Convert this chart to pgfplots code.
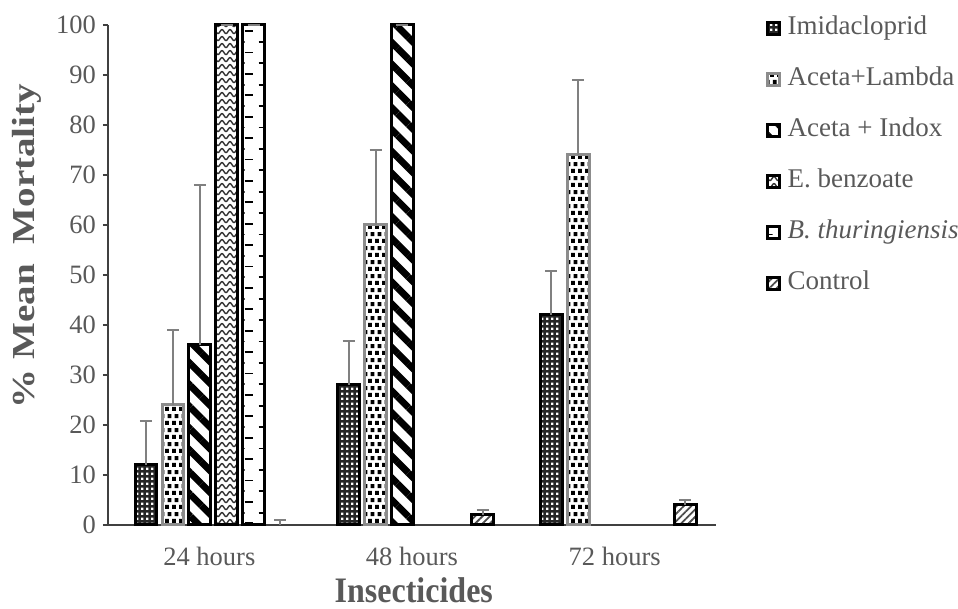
\documentclass[border=0pt]{standalone}
\usepackage{fontspec}
\setmainfont{Liberation Serif}
\usepackage{pgfplots}
\pgfplotsset{compat=1.18}
\usetikzlibrary{patterns,patterns.meta}
\definecolor{txt}{HTML}{595959}
\definecolor{errc}{HTML}{808080}

\tikzdeclarepattern{name=gridots, type=uncolored,
  bounding box={(0pt,0pt) and (2.6pt,2.6pt)}, tile size={(2.6pt,2.6pt)},
  code={\fill (0.7pt,0.7pt) rectangle (1.9pt,1.9pt);}}
\tikzdeclarepattern{name=sqdots, type=uncolored,
  bounding box={(0pt,0pt) and (3.6pt,7.2pt)}, tile size={(3.6pt,7.2pt)},
  code={\fill (0pt,0pt) rectangle (2.1pt,2.1pt);
        \fill (1.5pt,3.6pt) rectangle (3.6pt,5.7pt);}}
\tikzdeclarepattern{name=waves, type=uncolored,
  bounding box={(-0.5pt,-0.5pt) and (4.5pt,4pt)}, tile size={(4pt,3.5pt)},
  code={\draw[line width=0.7pt] (0pt,1.7pt) .. controls (0.7pt,0.4pt) and (1.3pt,0.4pt) .. (2pt,1.7pt) .. controls (2.7pt,3pt) and (3.3pt,3pt) .. (4pt,1.7pt);}}
\tikzdeclarepattern{name=ruler, type=uncolored,
  bounding box={(0pt,-0.5pt) and (11pt,11pt)}, tile size={(11pt,10.7pt)},
  tile transformation={xshift=1.35pt},
  code={\draw[line width=0.9pt] (0pt,0pt) -- (4pt,0pt);
        \draw[line width=0.9pt] (7pt,5.35pt) -- (11pt,5.35pt);}}

\pgfplotsset{sq legend/.style={legend image code/.code={\draw[##1, line width=1.2pt] (0pt,-3pt) rectangle (6pt,3pt);}}}

\begin{document}
\begin{tikzpicture}
\path[use as bounding box] (-54pt,-42pt) rectangle (425pt,262.5pt);
\begin{axis}[
  at={(0,0)}, anchor=south west,
  scale only axis, width=304pt, height=250pt,
  ybar, bar width=0.108,
  xmin=-0.5, xmax=2.5, ymin=0, ymax=100,
  xtick={0,1,2}, xticklabels={24 hours,48 hours,72 hours},
  ytick={0,10,...,100},
  axis x line*=bottom, axis y line*=left,
  axis line style={black!75, line width=0.8pt},
  xtick style={draw=none},
  ytick style={black!75, line width=0.8pt},
  tick align=outside, major tick length=2.5pt,
  tick label style={font=\fontsize{13.25}{15}\selectfont, text=txt},
  xticklabel style={yshift=-5pt},
  /pgf/number format/assume math mode=true,
  xlabel={\scalebox{1}[1.12]{Insecticides}}, ylabel={\scalebox{1.22}[1]{\%\ Mean\ \ Mortality}},
  every axis x label/.style={at={(axis description cs:0.503,-0.13)}, anchor=center,
    font=\fontsize{16}{18}\selectfont\bfseries, text=txt},
  every axis y label/.style={at={(axis description cs:-0.133,0.558)}, rotate=90, anchor=center,
    font=\fontsize{16}{18}\selectfont\bfseries, text=txt},
  clip=false,
  legend style={at={(1.082,1.018)}, anchor=north west, draw=none, fill=none,
    font=\fontsize{13.5}{15}\selectfont, text=txt,
    nodes={inner sep=0pt, text height=9pt, text depth=3pt, anchor=west},
    row sep=13.5pt, column sep=3.5pt, inner sep=0pt},
  legend cell align=left,
  error bars/y dir=plus, error bars/y explicit,
  error bars/error bar style={errc, line width=1pt},
  error bars/error mark options={errc, line width=1pt, mark size=3pt, rotate=90},
]
\addplot[sq legend, bar shift=-0.3125, draw=black, line width=1.5pt,
  preaction={fill=black!85}, pattern=gridots, pattern color=white]
  coordinates {(0,12) +- (0,8.7) (1,28) +- (0,8.7) (2,42) +- (0,8.7)};
\addlegendentry{Imidacloprid}
\addplot[sq legend, bar shift=-0.179, draw=gray!90, line width=1.5pt,
  preaction={fill=white}, pattern=sqdots, pattern color=black]
  coordinates {(0,24) +- (0,15) (1,60) +- (0,15) (2,74) +- (0,15)};
\addlegendentry{Aceta+Lambda}
\addplot[sq legend, bar shift=-0.047, draw=black, line width=1.5pt,
  pattern={Lines[angle=-45, distance=7.7pt, line width=3.4pt]}, pattern color=black]
  coordinates {(0,36) +- (0,32) (1,100) +- (0,0)};
\addlegendentry{Aceta + Indox}
\addplot[sq legend, bar shift=0.086, draw=black, line width=1.5pt,
  pattern=waves, pattern color=black!80]
  coordinates {(0,100) +- (0,0)};
\addlegendentry{E. benzoate}
\addplot[sq legend, bar shift=0.219, draw=black, line width=1.5pt,
  pattern=ruler, pattern color=black]
  coordinates {(0,100) +- (0,0)};
\addlegendentry{\textit{B. thuringiensis}}
\addplot[sq legend, bar shift=0.349, draw=black, line width=1.5pt,
  pattern={Lines[angle=45, distance=2.6pt, line width=0.9pt]}, pattern color=black!70]
  coordinates {(1,2) +- (0,1) (2,4) +- (0,1)};
\addlegendentry{Control}
\addplot[forget plot, bar shift=0.349, draw=none, fill=none]
  coordinates {(0,0) +- (0,1)};
\end{axis}
\end{tikzpicture}
\end{document}
